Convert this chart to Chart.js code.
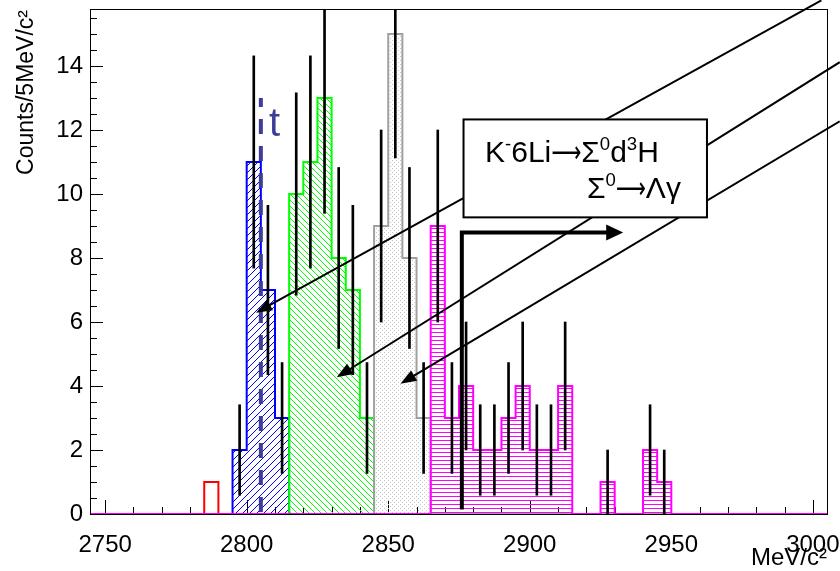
<!DOCTYPE html>
<html>
<head>
<meta charset="utf-8">
<title>Invariant mass spectrum</title>
<script src="https://cdn.jsdelivr.net/npm/chart.js@4.4.1/dist/chart.umd.min.js"></script>
<style>
  html, body { margin: 0; padding: 0; background: #fff; }
  canvas { display: block; }
</style>
</head>
<body>
<canvas id="hist" width="840" height="571"></canvas>
<script>
// --- binning / axes ---
const xMin = 2745, xMax = 3005, binWidth = 5;
const yMax = 15.75;
const xTickValues = [2750, 2800, 2850, 2900, 2950, 3000];
const yTickValues = [0, 2, 4, 6, 8, 10, 12, 14];

// --- component histograms (low edge of first bin + counts per 5 MeV bin) ---
const redStart = 2785, redCounts = [1];
const blueStart = 2795, blueCounts = [2, 11, 7, 3];
const greenStart = 2815, greenCounts = [10, 11, 13, 8, 7, 3];
const grayStart = 2845, grayCounts = [9, 15, 8, 3];
const magentaStart = 2865, magentaCounts = [9, 3, 4, 2, 2, 3, 4, 2, 2, 4, 0, 0, 1, 0, 0, 2, 1];

// --- measured spectrum, bin centres and counts (errors = sqrt(N)) ---
const dataMass = [2797.5, 2802.5, 2807.5, 2812.5, 2817.5, 2822.5, 2827.5, 2832.5, 2837.5,
                  2842.5, 2847.5, 2852.5, 2857.5, 2862.5, 2867.5, 2872.5, 2877.5, 2882.5,
                  2887.5, 2892.5, 2897.5, 2902.5, 2907.5, 2912.5, 2927.5, 2942.5, 2947.5];
const dataCounts = [2, 11, 7, 3, 10, 11, 13, 8, 7,
                    3, 9, 15, 8, 3, 9, 3, 4, 2,
                    2, 3, 4, 2, 2, 4, 1, 2, 1];

// --- threshold marker and annotation anchors (data units) ---
const threshold = { mass: 2805, top: 13, label: 't', labelX: 2807.9, labelY: 11.8 };
const pointers = [
  { from: [3003.0, 16.05], to: [2803.3, 6.29] },
  { from: [3009.5, 14.12], to: [2831.8, 4.27] },
  { from: [3009.5, 12.27], to: [2854.3, 4.07] }
];
const decayArrow = { x: 2876, yLow: 0.14, yHigh: 8.8, xEnd: 2933 };
const legendBox = { x1: 2876.6, x2: 2962.6, y1: 9.27, y2: 12.33 };
const ARROW = '\u27F6';
const line1 = { x: 2884.2, y: 11.0, parts: [['K'], ['-', true], ['6Li'], [ARROW], ['\u03A3'], ['0', true], ['d'], ['3', true], ['H']] };
const line2 = { x: 2920.2, y: 9.87, parts: [['\u03A3'], ['0', true], [ARROW], ['\u039B\u03B3']] };

const FONT = "'Liberation Sans', Arial, Helvetica, sans-serif";
Chart.defaults.font.family = FONT;
Chart.defaults.color = '#000';

const canvas = document.getElementById('hist');
const ctx = canvas.getContext('2d');

function makePattern(size, draw) {
  const c = document.createElement('canvas');
  c.width = c.height = size;
  draw(c.getContext('2d'), size);
  return ctx.createPattern(c, 'repeat');
}

const blueHatch = makePattern(7, (g, s) => {
  g.strokeStyle = '#0000ff'; g.lineWidth = 1;
  g.beginPath();
  g.moveTo(0, s); g.lineTo(s, 0);
  g.moveTo(-1, 1); g.lineTo(1, -1);
  g.moveTo(s - 1, s + 1); g.lineTo(s + 1, s - 1);
  g.stroke();
});
const greenHatch = makePattern(6, (g, s) => {
  g.strokeStyle = '#00ff00'; g.lineWidth = 1;
  g.beginPath();
  g.moveTo(0, 0); g.lineTo(s, s);
  g.moveTo(-1, s - 1); g.lineTo(1, s + 1);
  g.moveTo(s - 1, -1); g.lineTo(s + 1, 1);
  g.stroke();
});
const grayDots = makePattern(4, (g) => {
  g.fillStyle = '#c4c4c4';
  g.fillRect(0, 0, 1, 1);
  g.fillRect(2, 2, 1, 1);
});
const magentaLines = makePattern(4, (g) => {
  g.fillStyle = '#ff00ff';
  g.fillRect(0, 0, 4, 1);
});

// step outline over the full axis range, zero outside the component
function histPoints(start, counts) {
  const pts = [];
  const nBins = Math.round((xMax - xMin) / binWidth);
  for (let i = 0; i < nBins; i++) {
    const lo = xMin + i * binWidth;
    const k = Math.round((lo - start) / binWidth);
    pts.push({ x: lo, y: (k >= 0 && k < counts.length) ? counts[k] : 0 });
  }
  pts.push({ x: xMax, y: pts[pts.length - 1].y });
  return pts;
}

function histDataset(label, start, counts, color, fillStyle, order) {
  return {
    type: 'line', label, order,
    data: histPoints(start, counts),
    stepped: true,
    borderColor: color,
    borderWidth: 2,
    backgroundColor: fillStyle || 'rgba(0,0,0,0)',
    fill: fillStyle ? 'origin' : false,
    pointRadius: 0,
    pointHoverRadius: 0
  };
}

const errorBars = {
  type: 'bar', label: 'data', order: 0,
  data: dataMass.map((m, i) => {
    const n = dataCounts[i], e = Math.sqrt(n);
    return { x: m, y: [n - e, n + e] };
  }),
  backgroundColor: '#000',
  borderWidth: 0,
  barThickness: 2,
  grouped: false
};

// text with superscripts; the arrow glyph is stretched to a fixed width
function drawRich(c, x, y, parts, size) {
  for (const [txt, sup] of parts) {
    if (txt === ARROW) {
      c.font = `${size}px 'DejaVu Sans', sans-serif`;
      const w = c.measureText(txt).width, target = size * 1.0;
      c.save();
      c.translate(x, y);
      c.scale(target / w, 1);
      c.fillText(txt, 0, 0);
      c.restore();
      x += target;
      continue;
    }
    const s = sup ? size * 0.62 : size;
    c.font = `${s}px ${FONT}`;
    c.fillText(txt, x, sup ? y - size * 0.4 : y);
    x += c.measureText(txt).width;
  }
}

function arrowHead(c, x1, y1, x2, y2, len, half) {
  const a = Math.atan2(y2 - y1, x2 - x1);
  c.beginPath();
  c.moveTo(x2, y2);
  c.lineTo(x2 - len * Math.cos(a) + half * Math.sin(a), y2 - len * Math.sin(a) - half * Math.cos(a));
  c.lineTo(x2 - len * Math.cos(a) - half * Math.sin(a), y2 - len * Math.sin(a) + half * Math.cos(a));
  c.closePath();
  c.fill();
}

const rootStyle = {
  id: 'rootStyle',
  beforeDatasetsDraw(chart) {
    const { ctx: c, chartArea: a, scales: { x, y } } = chart;
    c.save();
    c.strokeStyle = '#000';
    c.lineWidth = 1;
    c.strokeRect(a.left - 0.5, a.top - 0.5, a.right - a.left + 1, a.bottom - a.top + 1);
    c.beginPath();
    for (let v = 2750; v <= 3000; v += 10) {
      const px = Math.round(x.getPixelForValue(v)) + 0.5;
      const len = xTickValues.includes(v) ? 14 : 7;
      c.moveTo(px, a.bottom); c.lineTo(px, a.bottom - len);
    }
    for (let v = 0; v <= yMax; v += 0.5) {
      const py = Math.round(y.getPixelForValue(v)) + 0.5;
      const len = yTickValues.includes(v) ? 12 : 6;
      c.moveTo(a.left, py); c.lineTo(a.left + len, py);
    }
    c.stroke();
    c.restore();
  },
  afterDatasetsDraw(chart) {
    const { ctx: c, scales: { x, y } } = chart;
    const X = v => x.getPixelForValue(v), Y = v => y.getPixelForValue(v);
    c.save();

    // threshold line
    c.strokeStyle = '#3d3d99';
    c.lineWidth = 4;
    c.setLineDash([15, 12]);
    c.lineDashOffset = 6;
    c.beginPath();
    c.moveTo(X(threshold.mass), Y(threshold.top));
    c.lineTo(X(threshold.mass), Y(0));
    c.stroke();
    c.setLineDash([]);
    c.fillStyle = '#3d3d99';
    c.font = `40px ${FONT}`;
    c.textAlign = 'left';
    c.textBaseline = 'alphabetic';
    c.fillText(threshold.label, X(threshold.labelX), Y(threshold.labelY));

    // pointers to the components
    c.strokeStyle = '#000';
    c.fillStyle = '#000';
    c.lineWidth = 2;
    for (const p of pointers) {
      const x1 = X(p.from[0]), y1 = Y(p.from[1]), x2 = X(p.to[0]), y2 = Y(p.to[1]);
      const a = Math.atan2(y2 - y1, x2 - x1);
      c.beginPath();
      c.moveTo(x1, y1);
      c.lineTo(x2 - 12 * Math.cos(a), y2 - 12 * Math.sin(a));
      c.stroke();
      arrowHead(c, x1, y1, x2, y2, 16, 6);
    }

    // decay arrow
    const ax = X(decayArrow.x), ay0 = Y(decayArrow.yLow), ay1 = Y(decayArrow.yHigh), ax2 = X(decayArrow.xEnd);
    c.lineWidth = 4;
    c.lineJoin = 'miter';
    c.beginPath();
    c.moveTo(ax, ay0);
    c.lineTo(ax, ay1);
    c.lineTo(ax2 - 14, ay1);
    c.stroke();
    arrowHead(c, ax, ay1, ax2, ay1, 17, 8);

    // reaction label box
    const bx = X(legendBox.x1), by = Y(legendBox.y2);
    const bw = X(legendBox.x2) - bx, bh = Y(legendBox.y1) - by;
    c.fillStyle = '#fff';
    c.fillRect(bx, by, bw, bh);
    c.lineWidth = 2;
    c.strokeRect(bx, by, bw, bh);
    c.fillStyle = '#000';
    drawRich(c, X(line1.x), Y(line1.y), line1.parts, 30);
    drawRich(c, X(line2.x), Y(line2.y), line2.parts, 30);
    c.restore();
  }
};

new Chart(ctx, {
  type: 'line',
  data: {
    datasets: [
      errorBars,
      histDataset('magenta', magentaStart, magentaCounts, '#ff00ff', magentaLines, 1),
      histDataset('gray', grayStart, grayCounts, '#a0a0a0', grayDots, 2),
      histDataset('green', greenStart, greenCounts, '#00ff00', greenHatch, 3),
      histDataset('blue', blueStart, blueCounts, '#0000ff', blueHatch, 4),
      histDataset('red', redStart, redCounts, '#ff0000', null, 5)
    ]
  },
  options: {
    responsive: false,
    animation: false,
    devicePixelRatio: 1,
    layout: { padding: { left: 0, right: 13, top: 10, bottom: 0 } },
    plugins: { legend: { display: false }, tooltip: { enabled: false } },
    scales: {
      x: {
        type: 'linear', min: xMin, max: xMax, offset: false,
        grid: { display: false, drawTicks: false }, border: { display: false },
        afterBuildTicks: s => { s.ticks = xTickValues.map(v => ({ value: v })); },
        afterFit: s => { s.height = 57; s.paddingLeft = 0; s.paddingRight = 0; },
        ticks: { font: { size: 24 }, padding: 17, maxRotation: 0, autoSkip: false, callback: v => String(v) },
        title: { display: true, text: 'MeV/c\u00B2', align: 'end', font: { size: 24, lineHeight: 1 }, padding: { top: 0, bottom: 1 } }
      },
      y: {
        type: 'linear', min: 0, max: yMax,
        grid: { display: false, drawTicks: false }, border: { display: false },
        afterBuildTicks: s => { s.ticks = yTickValues.map(v => ({ value: v })); },
        afterFit: s => { s.width = 91; s.paddingTop = 0; s.paddingBottom = 0; },
        ticks: { font: { size: 24 }, padding: 8, callback: v => String(v) },
        title: { display: true, text: 'Counts/5MeV/c\u00B2', align: 'end', font: { size: 23 }, padding: { top: 13, bottom: 0 } }
      }
    }
  },
  plugins: [rootStyle]
});
</script>
</body>
</html>
